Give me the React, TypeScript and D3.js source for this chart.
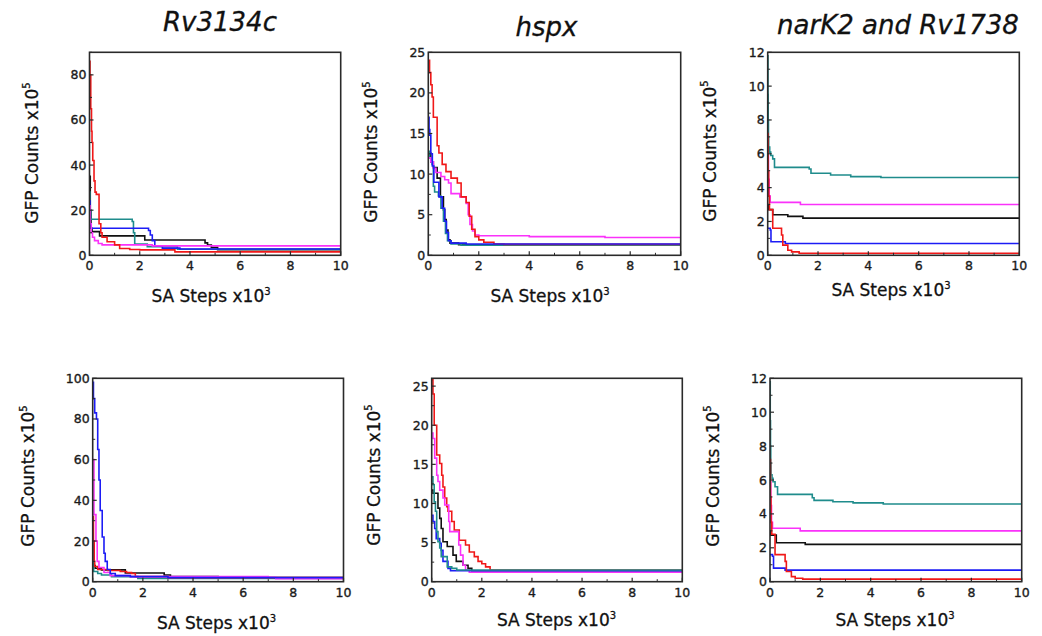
import React from 'react';
import * as d3 from 'd3';

type Pt = [number, number];

// ---------- data ----------
const xTicks = [0, 2, 4, 6, 8, 10];
const xMinorTicks = [1, 3, 5, 7, 9];
const titles = ['Rv3134c', 'hspx', 'narK2 and Rv1738'];

// Panel 1: Rv3134c (top)
const p1Black: Pt[] = [[0,35],[0.03,20],[0.06,12],[0.1,10.5],[0.4,8.6],[2.2,6.8],[4.6,5.5],[4.7,4.5],[4.85,3.5],[5.1,2.5],[10,2.5]];
const p1Teal: Pt[] = [[0,28],[0.02,20],[0.05,16],[1.7,15],[1.75,10],[1.8,5],[2.3,3.8],[3.5,2.7],[10,2.7]];
const p1Blue: Pt[] = [[0,24],[0.03,14],[0.06,12],[2.35,11],[2.42,9],[2.5,6.5],[2.6,4],[2.9,3.2],[3.6,2.8],[10,2.8]];
const p1Magenta: Pt[] = [[0,22],[0.03,14],[0.07,10],[0.12,8],[0.2,6.5],[0.35,5.2],[0.5,4.6],[2.5,4.2],[10,3.8]];
const p1Red: Pt[] = [[0,86],[0.02,80],[0.05,65],[0.08,55],[0.1,50],[0.13,42],[0.18,33],[0.22,28],[0.27,27],[0.38,14],[0.45,10],[0.5,8],[0.7,6],[1.0,4.6],[1.2,3],[1.6,2.6],[2.0,2.4],[3.4,1.5],[10,1.5]];

// Panel 2: hspx (top)
const p2Black: Pt[] = [[0,12.6],[0.1,11.5],[0.2,10.8],[0.35,9.5],[0.48,7.2],[0.6,5.6],[0.65,4.4],[0.71,3.1],[0.78,1.9],[0.86,1.5],[1.2,1.3],[10,1.3]];
const p2Teal: Pt[] = [[0,12.8],[0.05,12],[0.15,11.2],[0.2,8.5],[0.25,7.8],[0.4,7.3],[0.5,5.8],[0.6,4.2],[0.68,2.7],[0.76,1.8],[0.9,1.4],[1.3,1.25],[10,1.2]];
const p2Blue: Pt[] = [[0,17],[0.03,15.5],[0.06,14.8],[0.1,12.5],[0.16,11],[0.22,9],[0.42,7.2],[0.55,5.8],[0.65,4.2],[0.72,2.8],[0.8,1.8],[0.9,1.5],[1.5,1.4],[10,1.35]];
const p2Magenta: Pt[] = [[0,12],[0.1,11.5],[0.2,10.7],[0.3,10.2],[0.5,9.7],[0.65,9.3],[0.8,8.9],[0.9,7.6],[1.25,7.2],[1.5,6.4],[1.58,5],[1.65,3.8],[1.75,3],[1.85,2.5],[2.0,2.4],[4,2.3],[7,2.2],[10,2.1]];
const p2Red: Pt[] = [[0,24],[0.05,22.5],[0.1,21],[0.15,19.5],[0.2,17],[0.35,13.5],[0.42,12.6],[0.55,11.2],[0.7,10.3],[0.9,9.5],[1.15,8.9],[1.3,7.2],[1.5,6.5],[1.62,4.8],[1.72,3.2],[1.85,2.3],[2.0,1.9],[2.2,1.6],[2.6,1.4],[3,1.35],[10,1.35]];

// Panel 3: narK2 and Rv1738 (top)
const p3Teal: Pt[] = [[0,11.8],[0.01,9.5],[0.02,8],[0.03,7],[0.04,6.4],[0.08,6.1],[0.12,5.9],[0.2,5.7],[0.27,5.2],[1.65,5.1],[1.72,4.85],[2.5,4.75],[3.3,4.65],[4.5,4.6],[10,4.58]];
const p3Magenta: Pt[] = [[0,5.9],[0.03,4.5],[0.06,3.5],[0.1,3.13],[1.3,3.0],[10,2.98]];
const p3Black: Pt[] = [[0,3],[0.02,2.7],[0.2,2.4],[0.8,2.3],[1.4,2.2],[10,2.2]];
const p3Blue: Pt[] = [[0,1.6],[0.1,1.5],[0.13,0.8],[0.7,0.7],[10,0.66]];
const p3Red: Pt[] = [[0,7.2],[0.02,5],[0.04,3.5],[0.07,2.7],[0.2,1.6],[0.55,1.2],[0.6,0.6],[0.8,0.3],[0.95,0.2],[1.25,0.12],[10,0.1]];

// Panel 4: Rv3134c (bottom)
const p4Black: Pt[] = [[0,30],[0.02,15],[0.05,8],[0.1,6.6],[0.35,5.8],[1.3,4.3],[2.85,3.3],[3.1,2.5],[5,2],[10,1.5]];
const p4Teal: Pt[] = [[0,30],[0.02,12],[0.04,5],[0.2,4],[0.35,3.3],[0.75,2.5],[1.8,1.6],[10,1.4]];
const p4Red: Pt[] = [[0,32],[0.03,20],[0.06,10],[0.08,7.5],[0.2,6],[0.6,5.5],[1.1,5],[1.35,4.5],[1.55,4],[1.7,2.5],[3,2],[10,1.5]];
const p4Magenta: Pt[] = [[0,60],[0.05,33],[0.13,20],[0.18,10],[0.25,7],[0.45,4.5],[0.7,3],[1.5,2.5],[7,2.2],[7.3,1.5],[10,1.5]];
const p4Blue: Pt[] = [[0,98],[0.03,90],[0.08,83],[0.15,80],[0.2,65],[0.25,50],[0.3,35],[0.38,22],[0.45,14],[0.5,10],[0.58,6],[0.7,4],[0.9,3],[1.5,2.5],[3,2],[10,1.8]];

// Panel 5: hspx (bottom)
const p5Red: Pt[] = [[0,25.8],[0.05,24],[0.1,20],[0.2,16.2],[0.32,15.1],[0.4,13.6],[0.45,12.1],[0.52,10.7],[0.6,9.6],[0.65,9],[0.8,7.7],[0.9,6.6],[1.1,5.3],[1.35,4.7],[1.5,3.8],[1.7,3.2],[1.85,2.6],[2.0,2.3],[2.15,1.9],[2.33,1.5],[10,1.4]];
const p5Black: Pt[] = [[0,11.7],[0.05,11.3],[0.25,9.4],[0.32,8.1],[0.38,6.8],[0.45,5.1],[0.62,4.5],[0.85,3.4],[0.98,2.6],[1.25,2.1],[1.45,1.7],[1.6,1.4],[10,1.4]];
const p5Magenta: Pt[] = [[0,19],[0.05,18.3],[0.12,15.8],[0.2,13.6],[0.25,12.8],[0.32,11.7],[0.45,10.7],[0.52,9.8],[0.68,7.7],[0.72,6.4],[1.08,4.7],[1.15,3.4],[1.25,2.1],[1.35,1.5],[1.5,1.2],[10,1.2]];
const p5Blue: Pt[] = [[0,8.5],[0.05,7.7],[0.12,6.8],[0.18,5.5],[0.32,4.9],[0.38,4],[0.45,2.6],[0.65,1.7],[0.75,1.4],[10,1.35]];
const p5Teal: Pt[] = [[0,13.4],[0.05,12.4],[0.1,10.2],[0.15,9],[0.2,6.4],[0.25,5.1],[0.32,4.3],[0.38,3.2],[0.62,1.9],[0.8,1.7],[1.0,1.5],[10,1.5]];

// Panel 6: narK2 and Rv1738 (bottom)
const p6Teal: Pt[] = [[0,11.8],[0.01,9.5],[0.02,8],[0.03,7],[0.04,6.3],[0.08,6.1],[0.12,5.9],[0.2,5.6],[0.3,5.15],[1.68,4.95],[1.75,4.8],[2.5,4.72],[3.3,4.65],[4.5,4.58],[10,4.55]];
const p6Magenta: Pt[] = [[0,5.9],[0.03,4.5],[0.06,3.5],[0.1,3.15],[1.2,3.0],[10,2.97]];
const p6Black: Pt[] = [[0,3.0],[0.02,2.75],[0.25,2.3],[1.4,2.2],[10,2.2]];
const p6Blue: Pt[] = [[0,1.6],[0.1,1.5],[0.14,0.8],[0.6,0.68],[10,0.66]];
const p6Red: Pt[] = [[0,7.2],[0.02,5],[0.04,3.5],[0.07,2.8],[0.2,1.6],[0.6,1.2],[0.65,0.6],[0.85,0.3],[1.0,0.2],[1.3,0.15],[10,0.12]];

const C = { black: '#111111', red: '#f01818', blue: '#1c1cf5', teal: '#1f8c8c', magenta: '#fa32fa' };

// ---------- layout ----------
const FONT = '"DejaVu Sans", "Liberation Sans", Arial, sans-serif';

type Series = { data: Pt[]; color: string };
type PanelCfg = {
  l: number; r: number; t: number; b: number;
  yMax: number; yMajor: number[]; yMinor: number[];
  series: Series[];
  yl: [number, number]; xl: [number, number];
};

const range = (a: number, b: number, s: number) => d3.range(a, b + 1e-9, s);

const panels: PanelCfg[] = [
  { l: 89.5, r: 340.7, t: 52.3, b: 255.3, yMax: 90, yMajor: range(0, 80, 20), yMinor: range(10, 90, 20),
    series: [{ data: p1Black, color: C.black }, { data: p1Teal, color: C.teal }, { data: p1Blue, color: C.blue }, { data: p1Magenta, color: C.magenta }, { data: p1Red, color: C.red }],
    yl: [37.5, 153], xl: [211, 302] },
  { l: 428.3, r: 680.7, t: 52.3, b: 255.3, yMax: 25, yMajor: range(0, 25, 5), yMinor: range(2.5, 22.5, 5),
    series: [{ data: p2Black, color: C.black }, { data: p2Teal, color: C.teal }, { data: p2Magenta, color: C.magenta }, { data: p2Red, color: C.red }, { data: p2Blue, color: C.blue }],
    yl: [377, 152], xl: [550, 302] },
  { l: 767.7, r: 1019.3, t: 52.3, b: 255.3, yMax: 12, yMajor: range(0, 12, 2), yMinor: range(1, 11, 2),
    series: [{ data: p3Teal, color: C.teal }, { data: p3Magenta, color: C.magenta }, { data: p3Black, color: C.black }, { data: p3Blue, color: C.blue }, { data: p3Red, color: C.red }],
    yl: [715.5, 151], xl: [891, 296] },
  { l: 92.7, r: 343.5, t: 378.3, b: 581.7, yMax: 100, yMajor: range(0, 100, 20), yMinor: range(10, 90, 20),
    series: [{ data: p4Black, color: C.black }, { data: p4Teal, color: C.teal }, { data: p4Red, color: C.red }, { data: p4Magenta, color: C.magenta }, { data: p4Blue, color: C.blue }],
    yl: [34, 476], xl: [216.5, 629] },
  { l: 431.7, r: 682.3, t: 378.3, b: 581.7, yMax: 26, yMajor: range(0, 25, 5), yMinor: range(2.5, 22.5, 5),
    series: [{ data: p5Red, color: C.red }, { data: p5Black, color: C.black }, { data: p5Magenta, color: C.magenta }, { data: p5Blue, color: C.blue }, { data: p5Teal, color: C.teal }],
    yl: [379.5, 475], xl: [556.5, 626] },
  { l: 770, r: 1021.7, t: 378.3, b: 581.7, yMax: 12, yMajor: range(0, 12, 2), yMinor: range(1, 11, 2),
    series: [{ data: p6Teal, color: C.teal }, { data: p6Magenta, color: C.magenta }, { data: p6Black, color: C.black }, { data: p6Blue, color: C.blue }, { data: p6Red, color: C.red }],
    yl: [718.5, 476], xl: [895, 626] },
];

const titlePos: [number, number][] = [[220, 31], [546.5, 35.5], [898, 33.5]];

function Panel({ cfg, idx }: { cfg: PanelCfg; idx: number }) {
  const x = d3.scaleLinear().domain([0, 10]).range([cfg.l, cfg.r]);
  const y = d3.scaleLinear().domain([0, cfg.yMax]).range([cfg.b, cfg.t]);
  const line = d3.line<Pt>().x(d => x(d[0])).y(d => y(d[1])).curve(d3.curveStepAfter);
  const clipId = `clip${idx}`;
  const axisColor = '#2a2a2a';
  const tickText = { fontSize: 12.5, fontFamily: FONT, fill: '#1a1a1a', stroke: '#1a1a1a', strokeWidth: 0.35 };
  const labelText = { fontSize: 17, fontFamily: FONT, fill: '#111', stroke: '#111', strokeWidth: 0.3 };
  return (
    <g>
      <defs>
        <clipPath id={clipId}>
          <rect x={cfg.l} y={cfg.t} width={cfg.r - cfg.l} height={cfg.b - cfg.t} />
        </clipPath>
      </defs>
      <g clipPath={`url(#${clipId})`}>
        {cfg.series.map((s, i) => (
          <path key={i} d={line(s.data) || ''} fill="none" stroke={s.color} strokeWidth={1.6} strokeLinejoin="miter" />
        ))}
      </g>
      <rect x={cfg.l} y={cfg.t} width={cfg.r - cfg.l} height={cfg.b - cfg.t} fill="none" stroke={axisColor} strokeWidth={1.6} />
      {xTicks.map(v => (
        <g key={'xt' + v}>
          <line x1={x(v)} x2={x(v)} y1={cfg.b} y2={cfg.b - 4} stroke={axisColor} strokeWidth={1.2} />
          <text x={x(v)} y={cfg.b + 15} textAnchor="middle" {...tickText}>{v}</text>
        </g>
      ))}
      {xMinorTicks.map(v => (
        <line key={'xm' + v} x1={x(v)} x2={x(v)} y1={cfg.b} y2={cfg.b - 2.5} stroke={axisColor} strokeWidth={1} />
      ))}
      {cfg.yMajor.map(v => (
        <g key={'yt' + v}>
          <line x1={cfg.l} x2={cfg.l + 4} y1={y(v)} y2={y(v)} stroke={axisColor} strokeWidth={1.2} />
          <text x={cfg.l - 3} y={y(v) + 4.5} textAnchor="end" {...tickText}>{v}</text>
        </g>
      ))}
      {cfg.yMinor.map(v => (
        <line key={'ym' + v} x1={cfg.l} x2={cfg.l + 2.5} y1={y(v)} y2={y(v)} stroke={axisColor} strokeWidth={1} />
      ))}
      <text x={cfg.xl[0]} y={cfg.xl[1]} textAnchor="middle" {...labelText}>
        SA Steps x10<tspan dy={-7.5} fontSize={10}>3</tspan>
      </text>
      <text transform={`translate(${cfg.yl[0]},${cfg.yl[1]}) rotate(-90)`} textAnchor="middle" {...labelText}>
        GFP Counts x10<tspan dy={-7.5} fontSize={10}>5</tspan>
      </text>
    </g>
  );
}

export default function App() {
  return (
    <svg width={1042} height={636} style={{ position: 'absolute', left: 0, top: 0, background: '#fff' }}>
      <rect x={0} y={0} width={1042} height={636} fill="#fff" />
      {titles.map((t, i) => (
        <text key={t} x={titlePos[i][0]} y={titlePos[i][1]} textAnchor="middle" fontSize={26} fontStyle="italic"
          fontFamily={FONT} fill="#111" stroke="#111" strokeWidth={0.3}>{t}</text>
      ))}
      {panels.map((p, i) => <Panel key={i} cfg={p} idx={i} />)}
    </svg>
  );
}
